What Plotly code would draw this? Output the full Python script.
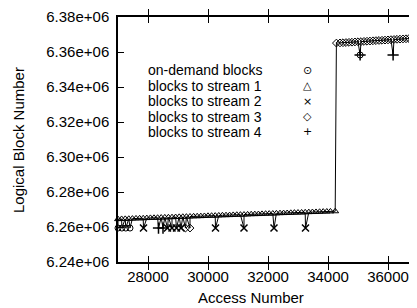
import plotly.graph_objects as go

# ---- data ----
stream1_x = [27000, 27120, 27240, 27360, 27480, 27600, 27720, 27840, 27960, 28080,
             28200, 28320, 28440, 28560, 28680, 28800, 28920, 29040, 29160, 29280,
             29400, 29520, 29640, 29760, 29880, 30000, 30120, 30240, 30360, 30480,
             30600, 30720, 30840, 30960, 31080, 31200, 31320, 31440, 31560, 31680,
             31800, 31920, 32040, 32160, 32280, 32400, 32520, 32640, 32760, 32880,
             33000, 33120, 33240, 33360, 33480, 33600, 33720, 33840, 33960, 34080, 34240]
stream1_y = [6264500, 6264600, 6264650, 6264700, 6264800, 6264900, 6264950, 6265000, 6265100, 6265200,
             6265250, 6265300, 6265400, 6265500, 6265550, 6265600, 6265700, 6265800, 6265850, 6265900,
             6266000, 6266100, 6266150, 6266200, 6266300, 6266400, 6266450, 6266500, 6266600, 6266700,
             6266750, 6266800, 6266900, 6267000, 6267050, 6267100, 6267200, 6267300, 6267350, 6267400,
             6267500, 6267600, 6267650, 6267700, 6267800, 6267900, 6267950, 6268000, 6268100, 6268200,
             6268250, 6268300, 6268400, 6268500, 6268550, 6268600, 6268700, 6268800, 6268850, 6268900, 6269000]

stream3_x = [29250, 29400,
             34280, 34400, 34500, 34600, 34700, 34800, 34900, 35000, 35100, 35200,
             35300, 35400, 35500, 35600, 35700, 35800, 35900, 36000, 36100, 36200,
             36300, 36400, 36500, 36600, 36700, 36800, 36900, 37000]
stream3_y = [6259400, 6259400,
             6365100, 6365200, 6365300, 6365400, 6365500, 6365600, 6365750, 6365850, 6365950, 6366050,
             6366150, 6366250, 6366400, 6366500, 6366600, 6366700, 6366800, 6366900, 6367050, 6367150,
             6367250, 6367350, 6367450, 6367550, 6367700, 6367800, 6367900, 6368000]

ondemand_x = [27000, 27130, 27260, 27400, 35070]
ondemand_y = [6259400, 6259400, 6259400, 6259400, 6358300]

stream2_x = [27850, 28650, 28800, 28950, 29100, 30250, 31200, 32200, 33250]
stream2_y = [6259400, 6259400, 6259400, 6259400, 6259400, 6259400, 6259400, 6259400, 6259400]

stream4_x = [28350, 28500, 35070, 36170]
stream4_y = [6259400, 6259400, 6358300, 6358300]

legend_names = ["on-demand blocks", "blocks to stream 1", "blocks to stream 2",
                "blocks to stream 3", "blocks to stream 4"]
legend_syms = ["\u2299", "\u25b3", "\u00d7", "\u25c7", "+"]

x_ticks = [28000, 30000, 32000, 34000, 36000]
y_ticks = [6240000, 6260000, 6280000, 6300000, 6320000, 6340000, 6360000, 6380000]
y_tick_text = ["6.24e+06", "6.26e+06", "6.28e+06", "6.30e+06",
               "6.32e+06", "6.34e+06", "6.36e+06", "6.38e+06"]

# ---- figure ----
# The page body has an 8px default margin, so the figure is shrunk by 8px
# and all pixel positions below are given in page coordinates.
OFF = 8
PW, PH = 417, 308
W, H = PW - OFF, PH - OFF
PL, PT, PB = 118, 17, 262          # plot area in page pixels (left, top, bottom)
L, T, B = PL - OFF, PT - OFF, PH - PB
FONT = "Liberation Sans"
FS = 15

# access-ordered path through all points
pts = sorted(zip(stream1_x + stream3_x + ondemand_x + stream2_x + stream4_x,
                 stream1_y + stream3_y + ondemand_y + stream2_y + stream4_y))
path_x = [p[0] for p in pts]
path_y = [p[1] for p in pts]

fig = go.Figure()
fig.add_trace(go.Scatter(x=path_x, y=path_y, mode="lines",
                         line=dict(color="black", width=1), showlegend=False))

mk = dict(color="black", size=6, line=dict(color="black", width=1))
fig.add_trace(go.Scatter(x=stream1_x, y=stream1_y, mode="markers", showlegend=False,
                         marker=dict(mk, symbol="triangle-up-open"), cliponaxis=False))
fig.add_trace(go.Scatter(x=stream3_x, y=stream3_y, mode="markers", showlegend=False,
                         marker=dict(mk, symbol="diamond-open"), cliponaxis=False))
fig.add_trace(go.Scatter(x=ondemand_x, y=ondemand_y, mode="markers", showlegend=False,
                         marker=dict(mk, symbol="circle-open"), cliponaxis=False))
fig.add_trace(go.Scatter(x=stream2_x, y=stream2_y, mode="markers", showlegend=False,
                         marker=dict(mk, size=7, symbol="x-thin-open", line=dict(color="black", width=1.5)),
                         cliponaxis=False))
fig.add_trace(go.Scatter(x=stream4_x, y=stream4_y, mode="markers", showlegend=False,
                         marker=dict(mk, size=8, symbol="cross-thin-open", line=dict(color="black", width=1.5)),
                         cliponaxis=False))
# dummy trace to activate right-side tick axis
fig.add_trace(go.Scatter(x=[None], y=[None], yaxis="y2", showlegend=False))

x_rng = [27000, 27000 + (PW - PL) / 30 * 1000]
y_rng = [6240000, 6380000]

fig.update_layout(
    width=W, height=H,
    margin=dict(l=L, r=0, t=T, b=B, pad=0),
    paper_bgcolor="white", plot_bgcolor="white",
    font=dict(family=FONT, size=FS, color="black"),
    showlegend=False,
    xaxis=dict(range=x_rng, tickvals=x_ticks, ticktext=[str(v) for v in x_ticks],
               ticks="inside", ticklen=6, tickwidth=1, tickcolor="black",
               showline=True, linecolor="black", linewidth=1.5, mirror="allticks",
               showgrid=False, zeroline=False, automargin=False,
               tickfont=dict(size=FS, family=FONT)),
    yaxis=dict(range=y_rng, tickvals=y_ticks, ticktext=y_tick_text,
               ticks="inside", ticklen=6, tickwidth=1, tickcolor="black",
               showline=True, linecolor="black", linewidth=1.5,
               showgrid=False, zeroline=False, automargin=False,
               ticklabelstandoff=4, tickfont=dict(size=FS, family=FONT)),
    yaxis2=dict(range=y_rng, tickvals=y_ticks, overlaying="y", side="right",
                ticks="inside", ticklen=6, tickwidth=1, tickcolor="black",
                showticklabels=False, showline=False, showgrid=False, zeroline=False,
                automargin=False),
)

def px2paper(px, py):
    return (px - PL) / (PW - PL), (PB - py) / (PB - PT)

legend_rows = [70, 85.5, 101, 116.5, 132]
for name, sym, ry in zip(legend_names, legend_syms, legend_rows):
    ax, ay = px2paper(147, ry)
    fig.add_annotation(x=ax, y=ay, xref="paper", yref="paper", text=name,
                       showarrow=False, xanchor="left", yanchor="middle",
                       borderpad=0, font=dict(size=14, family=FONT))
    sx, sy = px2paper(307, ry)
    fig.add_annotation(x=sx, y=sy, xref="paper", yref="paper", text=sym,
                       showarrow=False, xanchor="center", yanchor="middle",
                       borderpad=0, font=dict(size=11, family="DejaVu Sans"))

# axis titles
tx, ty = px2paper(251, 297)
fig.add_annotation(x=tx, y=ty, xref="paper", yref="paper", text="Access Number",
                   showarrow=False, xanchor="center", yanchor="middle",
                   font=dict(size=FS, family=FONT))
tx, ty = px2paper(18, 140)
fig.add_annotation(x=tx, y=ty, xref="paper", yref="paper", text="Logical Block Number",
                   showarrow=False, xanchor="center", yanchor="middle", textangle=-90,
                   font=dict(size=FS, family=FONT))

fig.write_html("out.html")
